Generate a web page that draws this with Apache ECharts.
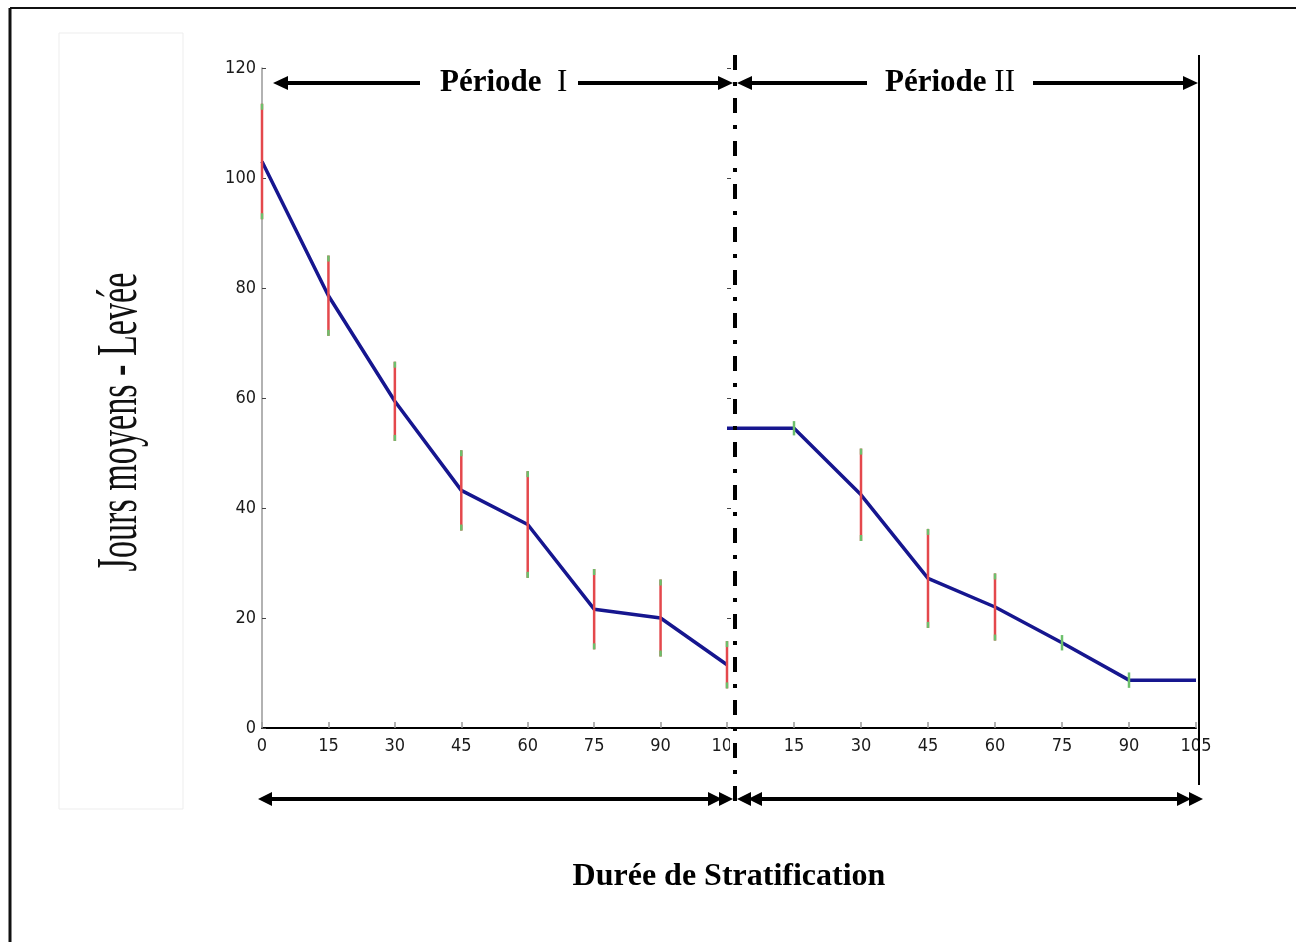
<!DOCTYPE html>
<html>
<head>
<meta charset="utf-8">
<script src="https://cdn.jsdelivr.net/npm/echarts@6/dist/echarts.min.js"></script>
<style>
  html, body { margin: 0; padding: 0; background: #fff; }
  #chart { width: 1296px; height: 942px; }
</style>
</head>
<body>
<div id="chart"></div>
<script>
// Stratification days (x ticks) shared by both periods
const days = [0, 15, 30, 45, 60, 75, 90, 105];
// Mean days to emergence and half error-bar size, period I
const meanP1 = [103.0, 78.6, 59.4, 43.2, 37.0, 21.6, 20.0, 11.5];
const errP1  = [10.5, 7.3, 7.2, 7.3, 9.7, 7.3, 7.0, 4.3];
// Mean days to emergence and half error-bar size, period II
const meanP2 = [54.5, 54.5, 42.4, 27.2, 22.0, 15.5, 8.7, 8.7];
const errP2  = [0, 1.3, 8.4, 9.0, 6.1, 1.4, 1.4, 0];
// Y axis range
const yMin = 0, yMax = 120, yStep = 20;

const SERIF = '"Liberation Serif", "Times New Roman", serif';
const NARROW = '"Liberation Sans Narrow", "Arial Narrow", "DejaVu Sans Condensed", sans-serif';
const LINE_COLOR = '#16168f';
const BAR_RED = '#e4484c';
const BAR_GREEN = '#6cc06c';

const chart = echarts.init(document.getElementById('chart'), null, { renderer: 'canvas' });

function errorBarItem(params, api) {
  const x = api.value(0), m = api.value(1), e = api.value(2);
  if (!e) return null;
  const top = api.coord([x, m + e]);
  const bot = api.coord([x, m - e]);
  const len = bot[1] - top[1];
  const children = [];
  if (e <= 2) {
    children.push({ type: 'line', shape: { x1: top[0], y1: top[1], x2: bot[0], y2: bot[1] },
      style: { stroke: BAR_GREEN, lineWidth: 2.5 } });
  } else {
    const cap = Math.min(6, len / 2);
    children.push({ type: 'line', shape: { x1: top[0], y1: top[1], x2: bot[0], y2: bot[1] },
      style: { stroke: BAR_RED, lineWidth: 2.5 } });
    children.push({ type: 'line', shape: { x1: top[0], y1: top[1], x2: top[0], y2: top[1] + cap },
      style: { stroke: BAR_GREEN, lineWidth: 2.5 } });
    children.push({ type: 'line', shape: { x1: bot[0], y1: bot[1] - cap, x2: bot[0], y2: bot[1] },
      style: { stroke: BAR_GREEN, lineWidth: 2.5 } });
  }
  return { type: 'group', children };
}

function xAxisFor(grid, hideZero) {
  return {
    gridIndex: grid, type: 'value', min: days[0], max: days[days.length - 1], interval: 15,
    axisLine: { show: true, onZero: false, lineStyle: { color: '#000', width: 2 } },
    axisTick: { show: true, inside: true, length: 6, lineStyle: { color: '#999', width: 1.5 } },
    axisLabel: {
      show: true, margin: 9, fontFamily: NARROW, fontSize: 18, color: '#1a1a1a',
      formatter: v => (hideZero && v === 0) ? '' : String(v)
    },
    splitLine: { show: false }
  };
}

const option = {
  backgroundColor: '#fff',
  animation: false,
  grid: [
    { left: 262, top: 68, width: 465, height: 660 },
    { left: 727, top: 68, width: 469, height: 660 }
  ],
  xAxis: [xAxisFor(0, false), xAxisFor(1, true)],
  yAxis: [
    {
      gridIndex: 0, type: 'value', min: yMin, max: yMax, interval: yStep,
      axisLine: { show: true, lineStyle: { color: '#999', width: 1.5 } },
      axisTick: { show: true, inside: true, length: 4, lineStyle: { color: '#444' } },
      axisLabel: { show: true, margin: 6, fontFamily: NARROW, fontSize: 18, color: '#1a1a1a' },
      splitLine: { show: false }
    },
    {
      gridIndex: 1, type: 'value', min: yMin, max: yMax, interval: yStep,
      axisLine: { show: false },
      axisTick: { show: true, inside: true, length: 4, lineStyle: { color: '#444' } },
      axisLabel: { show: false },
      splitLine: { show: false }
    }
  ],
  series: [
    {
      type: 'line', xAxisIndex: 0, yAxisIndex: 0, z: 2,
      data: days.map((d, i) => [d, meanP1[i]]),
      symbol: 'none', lineStyle: { color: LINE_COLOR, width: 3.5 }
    },
    {
      type: 'custom', xAxisIndex: 0, yAxisIndex: 0, z: 3,
      data: days.map((d, i) => [d, meanP1[i], errP1[i]]),
      encode: { x: 0, y: 1 }, renderItem: errorBarItem
    },
    {
      type: 'line', xAxisIndex: 1, yAxisIndex: 1, z: 2,
      data: days.map((d, i) => [d, meanP2[i]]),
      symbol: 'none', lineStyle: { color: LINE_COLOR, width: 3.5 }
    },
    {
      type: 'custom', xAxisIndex: 1, yAxisIndex: 1, z: 3,
      data: days.map((d, i) => [d, meanP2[i], errP2[i]]),
      encode: { x: 0, y: 1 }, renderItem: errorBarItem
    }
  ]
};
chart.setOption(option);

// Annotation layer: period arrows, separators, titles, frame
function head(tipX, y, dir, L, H) {
  return { type: 'polygon', z: 20,
    shape: { points: [[tipX, y], [tipX - dir * L, y - H], [tipX - dir * L, y + H]] },
    style: { fill: '#000' } };
}
function shaft(x1, x2, y, w) {
  return { type: 'line', z: 20, shape: { x1, y1: y, x2, y2: y },
    style: { stroke: '#000', lineWidth: w } };
}

const g0 = chart.convertToPixel({ gridIndex: 0 }, [0, yMax]);
const g0end = chart.convertToPixel({ gridIndex: 0 }, [105, 0]);
const g1end = chart.convertToPixel({ gridIndex: 1 }, [105, 0]);
const sepX = g0end[0] + 8;
const topY = 83, botY = 799;

const titleRich = {
  b: { fontFamily: SERIF, fontSize: 31, fontWeight: 'bold', fill: '#000' },
  r: { fontFamily: SERIF, fontSize: 31, fontWeight: 'normal', fill: '#000' }
};

const graphics = [
  // outer frame
  { type: 'line', z: 30, shape: { x1: 10, y1: 8, x2: 1296, y2: 8 }, style: { stroke: '#111', lineWidth: 2 } },
  { type: 'line', z: 30, shape: { x1: 10, y1: 8, x2: 10, y2: 942 }, style: { stroke: '#111', lineWidth: 3 } },
  // faint box behind the y title
  { type: 'rect', z: 0, shape: { x: 59, y: 33, width: 124, height: 776 },
    style: { fill: 'none', stroke: '#ededed', lineWidth: 1 } },
  // second panel edge hiding the tail of the first panel's last label
  { type: 'rect', z: 15, shape: { x: g0end[0] + 3, y: g0end[1] + 6, width: 12, height: 28 },
    style: { fill: '#fff' } },
  // separator between periods
  { type: 'line', z: 25, shape: { x1: sepX, y1: 55, x2: sepX, y2: 812 },
    style: { stroke: '#000', lineWidth: 4, lineDash: [15, 12, 4, 12] } },
  // right boundary
  { type: 'line', z: 25, shape: { x1: g1end[0] + 3, y1: 55, x2: g1end[0] + 3, y2: 785 },
    style: { stroke: '#000', lineWidth: 2 } },

  // top arrows, period I
  head(g0[0] + 11, topY, -1, 15, 7), shaft(g0[0] + 20, 420, topY, 4),
  shaft(578, sepX - 8, topY, 4), head(sepX - 2, topY, 1, 15, 7),
  // top arrows, period II
  head(sepX + 2, topY, -1, 15, 7), shaft(sepX + 10, 867, topY, 4),
  shaft(1033, g1end[0] - 6, topY, 4), head(g1end[0] + 2, topY, 1, 15, 7),

  // bottom arrows, period I
  head(258, botY, -1, 14, 7), shaft(266, sepX - 20, botY, 4),
  head(sepX - 13, botY, 1, 14, 7), head(sepX - 2, botY, 1, 14, 7),
  // bottom arrows, period II
  head(sepX + 2, botY, -1, 14, 7), head(sepX + 13, botY, -1, 14, 7),
  shaft(sepX + 20, g1end[0] - 12, botY, 4),
  head(g1end[0] - 5, botY, 1, 14, 7), head(g1end[0] + 7, botY, 1, 14, 7),

  // period titles
  { type: 'text', z: 20, style: { x: 440, y: topY, text: '{b|Période}  {r|I}', rich: titleRich,
      fontFamily: SERIF, fontSize: 31, verticalAlign: 'middle', align: 'left' } },
  { type: 'text', z: 20, style: { x: 885, y: topY, text: '{b|Période} {r|II}', rich: titleRich,
      fontFamily: SERIF, fontSize: 31, verticalAlign: 'middle', align: 'left' } },

  // x title
  { type: 'text', z: 20, style: { x: 729, y: 877, text: 'Durée de Stratification',
      fontFamily: SERIF, fontSize: 32, fontWeight: 'bold', fill: '#000',
      align: 'center', verticalAlign: 'middle' } },

  // y title (condensed serif, reading bottom to top)
  { type: 'text', z: 20, x: 121, y: 422, rotation: Math.PI / 2, scaleX: 0.61, scaleY: 1,
    style: { x: 0, y: 0, text: 'Jours moyens - Levée', fontFamily: SERIF, fontSize: 56,
      fill: '#111', align: 'center', verticalAlign: 'middle' } }
];

chart.setOption({ graphic: { elements: graphics } });
</script>
</body>
</html>
